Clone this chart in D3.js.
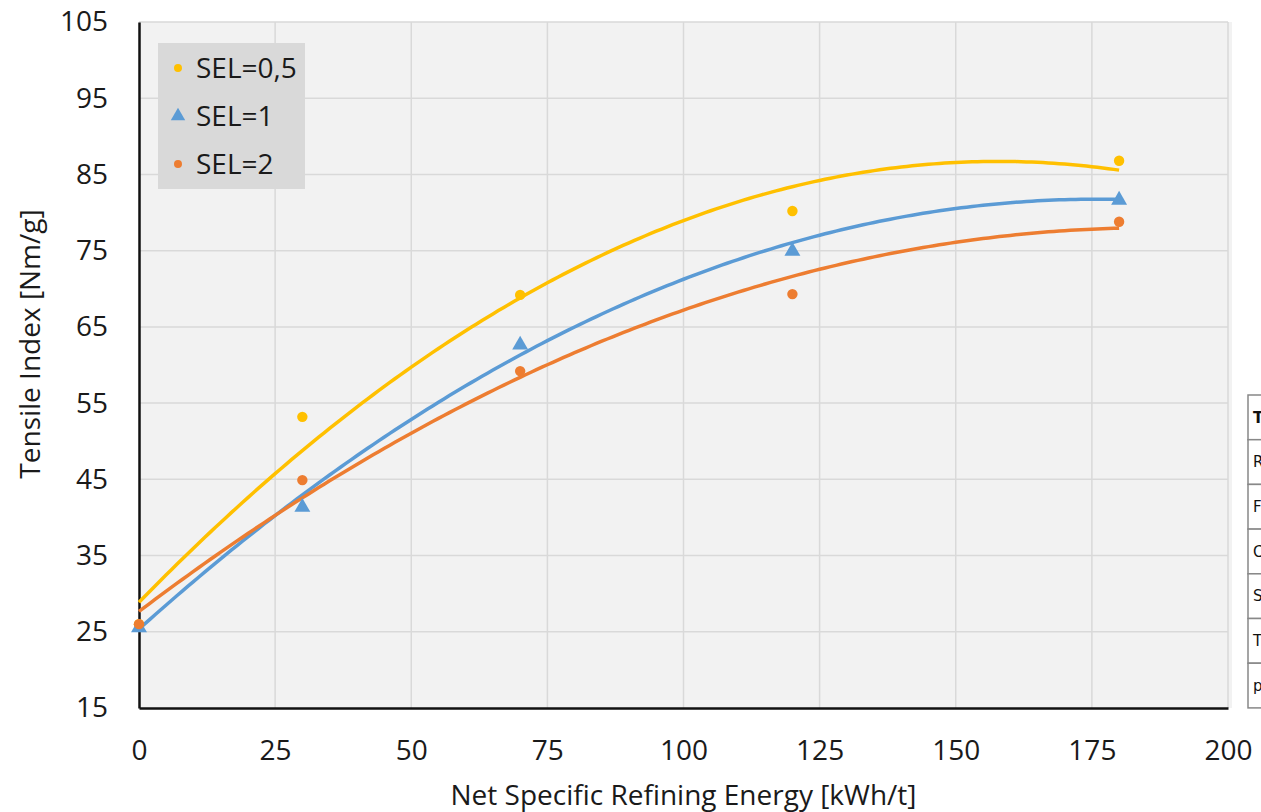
<!DOCTYPE html>
<html>
<head>
<meta charset="utf-8">
<script src="https://cdn.jsdelivr.net/npm/d3@7"></script>
<style>
  body { margin: 0; background: #fff; }
  svg { font-family: "Open Sans", "Noto Sans", sans-serif; }
</style>
</head>
<body>
<div id="chart"></div>
<script>
// refining energy levels [kWh/t]
const energy = [0, 30, 70, 120, 180];
const seriesNames = ["SEL=0,5", "SEL=1", "SEL=2"];
const sel05 = [26, 53.2, 69.2, 80.2, 86.8];
const sel1 = [25.8, 41.6, 62.9, 75.2, 81.9];
const sel2 = [26.0, 44.9, 59.2, 69.3, 78.8];
const xTicks = [0, 25, 50, 75, 100, 125, 150, 175, 200];
const yTicks = [15, 25, 35, 45, 55, 65, 75, 85, 95, 105];
const tableRows = ["T", "R", "F", "C", "S", "T", "p"];

const width = 1261, height = 812;
const margin = { left: 139, right: 33, top: 22, bottom: 104 };
const fontSize = 28;

const svg = d3.select("#chart").append("svg")
    .attr("width", width)
    .attr("height", height);

const x = d3.scaleLinear().domain([0, 200]).range([margin.left, width - margin.right]);
const y = d3.scaleLinear().domain([15, 105]).range([height - margin.bottom, margin.top]);

// plot background
svg.append("rect")
    .attr("x", x(0)).attr("y", y(105))
    .attr("width", x(200) - x(0) + 4).attr("height", y(15) - y(105))
    .attr("fill", "#f2f2f2");

// gridlines
svg.append("g")
    .attr("stroke", "#d9d9d9").attr("stroke-width", 1.5)
  .selectAll("line.h")
  .data(yTicks.slice(1))
  .join("line")
    .attr("x1", x(0)).attr("x2", x(200))
    .attr("y1", d => y(d)).attr("y2", d => y(d));

svg.append("g")
    .attr("stroke", "#d9d9d9").attr("stroke-width", 1.5)
  .selectAll("line.v")
  .data(xTicks.slice(1))
  .join("line")
    .attr("x1", d => x(d)).attr("x2", d => x(d))
    .attr("y1", y(15)).attr("y2", y(105));

// axes
const xAxis = svg.append("g")
    .attr("transform", `translate(0,${y(15)})`)
    .call(d3.axisBottom(x).tickValues(xTicks).tickSize(0));
const yAxis = svg.append("g")
    .attr("transform", `translate(${x(0)},0)`)
    .call(d3.axisLeft(y).tickValues(yTicks).tickSize(0).tickPadding(31));

[xAxis, yAxis].forEach(g => {
  g.select(".domain").attr("stroke", "#111").attr("stroke-width", 2.5);
  g.selectAll("text")
      .attr("font-family", "'Open Sans', sans-serif")
      .attr("font-size", fontSize).attr("fill", "#1a1a1a");
});
xAxis.selectAll("text").attr("y", 52).attr("dy", 0);

svg.append("text")
    .attr("x", x(100)).attr("y", 805)
    .attr("text-anchor", "middle")
    .attr("font-size", fontSize).attr("fill", "#1a1a1a")
    .text("Net Specific Refining Energy [kWh/t]");

svg.append("text")
    .attr("transform", `translate(40,344) rotate(-90)`)
    .attr("text-anchor", "middle")
    .attr("font-size", fontSize).attr("fill", "#1a1a1a")
    .text("Tensile Index [Nm/g]");

// quadratic least-squares trendline
function polyFit2(xs, ys) {
  const s = k => d3.sum(xs, v => Math.pow(v, k));
  const t = k => d3.sum(xs, (v, i) => Math.pow(v, k) * ys[i]);
  const A = [[s(0), s(1), s(2)], [s(1), s(2), s(3)], [s(2), s(3), s(4)]];
  const b = [t(0), t(1), t(2)];
  // gaussian elimination
  for (let i = 0; i < 3; i++) {
    for (let j = i + 1; j < 3; j++) {
      const f = A[j][i] / A[i][i];
      for (let k = i; k < 3; k++) A[j][k] -= f * A[i][k];
      b[j] -= f * b[i];
    }
  }
  const c = [0, 0, 0];
  for (let i = 2; i >= 0; i--) {
    let v = b[i];
    for (let k = i + 1; k < 3; k++) v -= A[i][k] * c[k];
    c[i] = v / A[i][i];
  }
  return xv => c[0] + c[1] * xv + c[2] * xv * xv;
}

const series = [
  { name: seriesNames[0], values: sel05, color: "#ffc000", shape: "circle" },
  { name: seriesNames[1], values: sel1, color: "#5b9bd5", shape: "triangle" },
  { name: seriesNames[2], values: sel2, color: "#ed7d31", shape: "circle" }
];

const line = d3.line().x(d => x(d[0])).y(d => y(d[1]));

series.forEach(s => {
  const f = polyFit2(energy, s.values);
  const pts = d3.range(0, 180.5, 1).map(v => [v, f(v)]);
  svg.append("path")
      .datum(pts)
      .attr("fill", "none")
      .attr("stroke", s.color)
      .attr("stroke-width", 3.5)
      .attr("d", line);
});

const symbol = shape => shape === "triangle"
    ? d3.symbol().type(d3.symbolTriangle).size(110)()
    : d3.symbol().type(d3.symbolCircle).size(85)();

series.forEach(s => {
  svg.append("g")
    .selectAll("path")
    .data(s.values)
    .join("path")
      .attr("transform", (d, i) => `translate(${x(energy[i])},${y(d) + (s.shape === "triangle" ? 2 : 0)})`)
      .attr("d", symbol(s.shape))
      .attr("fill", s.color);
});

// legend
const legend = svg.append("g").attr("transform", "translate(158,43)");
legend.append("rect")
    .attr("width", 147).attr("height", 146)
    .attr("fill", "#d9d9d9");
series.forEach((s, i) => {
  const g = legend.append("g").attr("transform", `translate(20,${25 + i * 48})`);
  g.append("path")
      .attr("d", s.shape === "triangle"
          ? d3.symbol().type(d3.symbolTriangle).size(90)()
          : d3.symbol().type(d3.symbolCircle).size(50)())
      .attr("fill", s.color);
  g.append("text")
      .attr("x", 18).attr("dy", "0.35em")
      .attr("font-size", fontSize).attr("fill", "#1a1a1a")
      .text(s.name);
});

// partially visible table at right edge
const table = svg.append("g").attr("transform", "translate(1248,395)");
const rowH = 44.7;
table.selectAll("rect")
  .data(tableRows)
  .join("rect")
    .attr("x", 0).attr("y", (d, i) => i * rowH)
    .attr("width", 40).attr("height", rowH)
    .attr("fill", "#fff")
    .attr("stroke", "#888").attr("stroke-width", 1.5);
table.selectAll("text")
  .data(tableRows)
  .join("text")
    .attr("x", 5).attr("y", (d, i) => i * rowH + rowH / 2)
    .attr("dy", "0.35em")
    .attr("font-family", "'DejaVu Sans', sans-serif")
    .attr("font-size", 15)
    .attr("font-weight", (d, i) => i === 0 ? "bold" : "normal")
    .attr("fill", "#111")
    .text(d => d);
</script>
</body>
</html>
